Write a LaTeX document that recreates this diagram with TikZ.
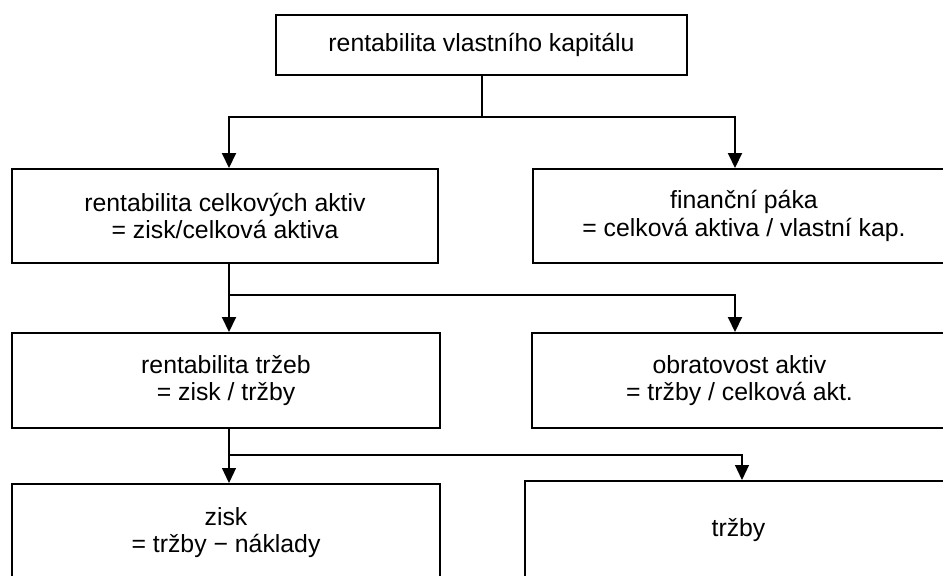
\documentclass[tikz,border=0pt]{standalone}
\usepackage{fontspec}
\setmainfont{Liberation Sans}
\usetikzlibrary{arrows.meta,calc}

\begin{document}
\begin{tikzpicture}[x=0.5pt,y=-0.5pt,
        box/.style={draw,line width=1pt,align=center,inner sep=0pt,font=\fontsize{12.4}{13.6}\selectfont},
        link/.style={line width=1pt},
        thinlink/.style={line width=0.6pt},
        tip/.style={-{Triangle[width=7pt,length=7.5pt]}}]

                \useasboundingbox (0,0) rectangle (943,575);
                \clip (0,0) rectangle (943,575);

                % boxes
                \node[box,minimum width=205.5pt,minimum height=30pt] (roe) at (481.5,45) {rentabilita vlastního kapitálu};
                \node[box,minimum width=213pt,minimum height=47pt] (roa) at (225,216) {rentabilita celkových aktiv\\= zisk/celková aktiva};
                \node[box,minimum width=211pt,minimum height=47pt] (lev) at (744,216) {finanční páka\\= celková aktiva / vlastní kap.};
                \node[box,minimum width=214pt,minimum height=47.5pt] (ros) at (226,380.5) {rentabilita tržeb\\= zisk / tržby};
                \node[box,minimum width=207.5pt,minimum height=47.5pt] (tur) at (739.5,380.5) {obratovost aktiv\\= tržby / celková akt.};
                \node[box,minimum width=214pt,minimum height=48.5pt] (prof) at (226,532.5) {zisk\\= tržby − náklady};
                \node[box,minimum width=213.5pt,minimum height=49pt] (sales) at (738.5,530) {tržby};

                % first split
                \coordinate (j1) at ($(roe.south)+(0,41)$);
                \draw[link] (roe.south)--(j1);
                \draw[link,tip] (j1) -| ($(roa.north)+(4,0)$);
                \draw[link,tip] (j1) -| ($(lev.north)+(-9,0)$);

                % second split
                \coordinate (j2) at ($(roa.south)+(4,31)$);
                \draw[link] ($(roa.south)+(4,0)$)--(j2);
                \draw[link,tip] (j2) -- ($(ros.north)+(3,0)$);
                \draw[link,tip] (j2) -| ($(tur.north)+(-4.5,0)$);

                % third split
                \coordinate (j3) at ($(ros.south)+(3,26)$);
                \draw[thinlink] ($(ros.south)+(3,0)$)--(j3);
                \draw[thinlink,tip] (j3) -- ($(prof.north)+(3,0)$);
                \draw[thinlink,tip] (j3) -| ($(sales.north)+(3.5,0)$);
\end{tikzpicture}
\end{document}
